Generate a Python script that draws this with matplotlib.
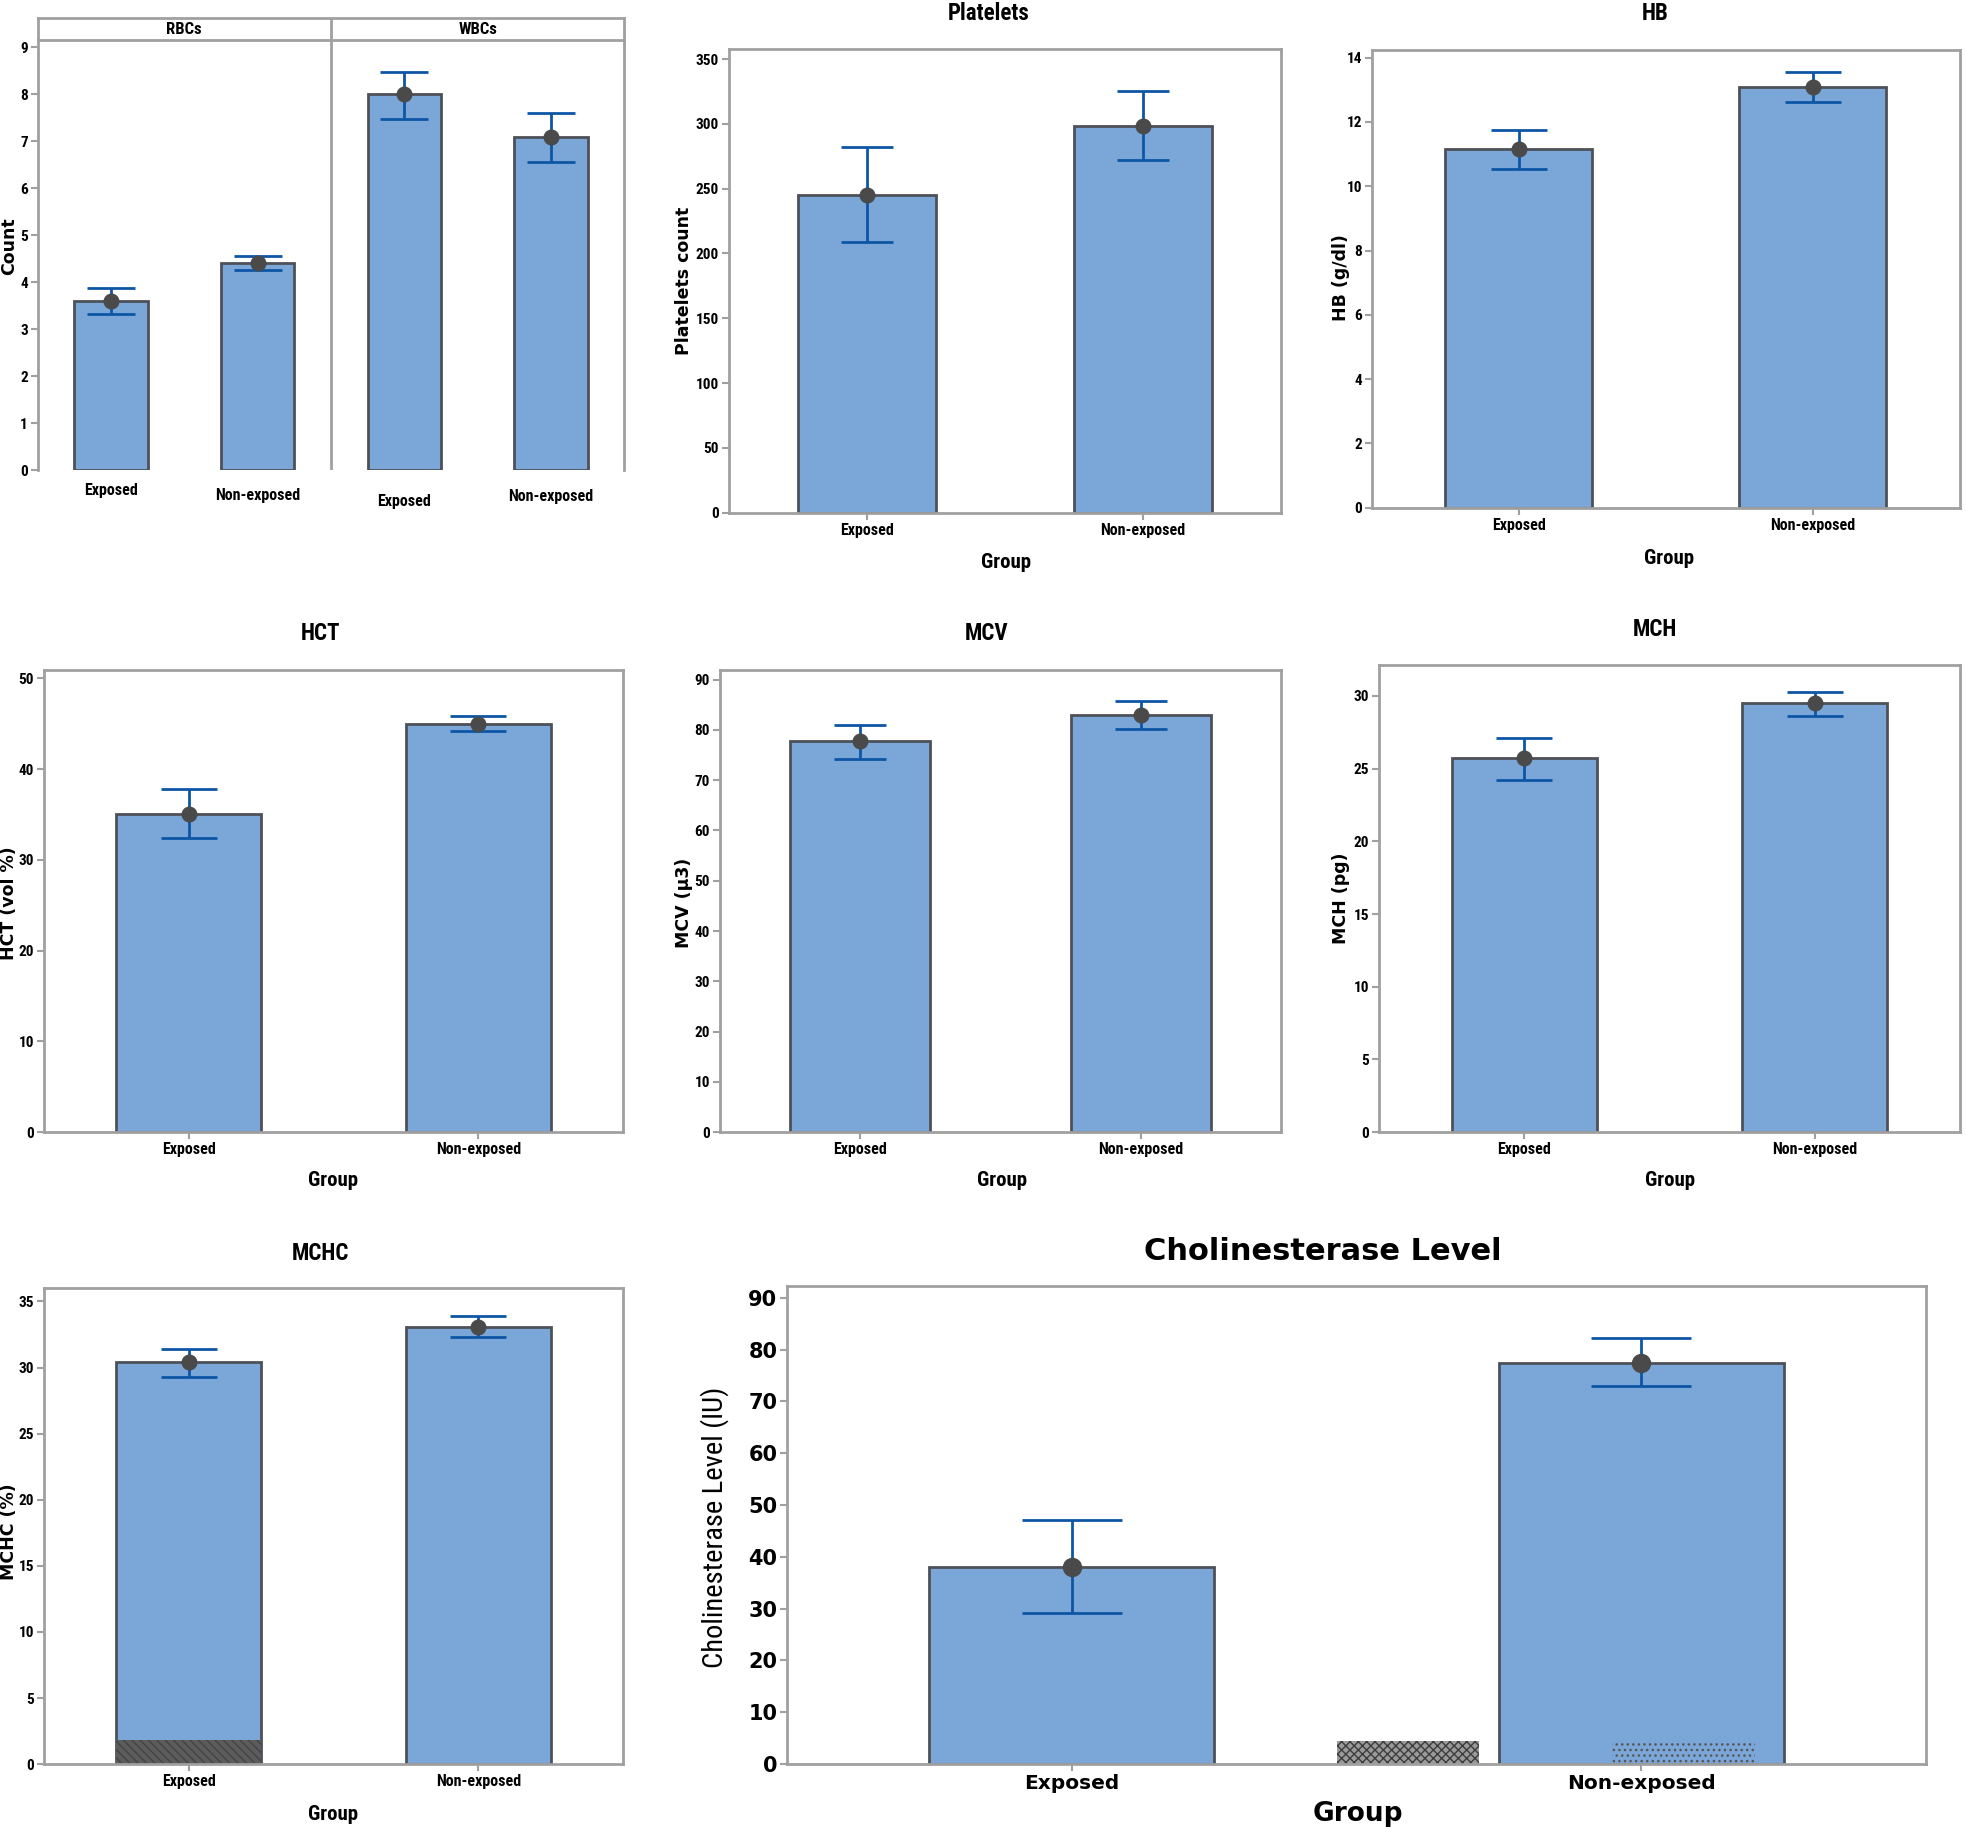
import numpy as np
import matplotlib
matplotlib.use("Agg")
import matplotlib.pyplot as plt
from matplotlib import font_manager

# look for a condensed face; fall back to plain DejaVu Sans
NARROW = "DejaVu Sans"
STRETCH = "normal"
for f in font_manager.fontManager.ttflist:
    if f.name in ("Roboto Condensed", "Liberation Sans Narrow", "Open Sans Condensed"):
        NARROW = f.name
        break
else:
    for f in font_manager.fontManager.ttflist:
        if f.name == "DejaVu Sans" and str(f.stretch) in ("condensed", "semi-condensed", "500"):
            STRETCH = "condensed"
            break
WIDE = "DejaVu Sans"
SEMI = "semibold"

groups = ["Exposed", "Non-exposed"]

# panel 1: RBCs / WBCs counts
count_cells = ["RBCs", "WBCs"]
count_mean = [3.6, 4.4, 8.0, 7.08]
count_low = [3.32, 4.25, 7.47, 6.55]
count_high = [3.87, 4.55, 8.48, 7.60]

plt_mean = [245, 298]
plt_low = [209, 272]
plt_high = [282, 325]

hb_mean = [11.15, 13.08]
hb_low = [10.55, 12.62]
hb_high = [11.75, 13.55]

hct_mean = [35.0, 45.0]
hct_low = [32.4, 44.2]
hct_high = [37.8, 45.8]

mcv_mean = [77.7, 83.0]
mcv_low = [74.2, 80.2]
mcv_high = [81.0, 85.8]

mch_mean = [25.7, 29.5]
mch_low = [24.2, 28.6]
mch_high = [27.1, 30.3]

mchc_mean = [30.4, 33.1]
mchc_low = [29.3, 32.3]
mchc_high = [31.4, 33.9]

che_mean = [38.0, 77.4]
che_low = [29.2, 72.9]
che_high = [47.2, 82.2]

BAR = "#7ba6d8"
EDGE = "#4d5157"
ERR = "#0d56a6"
DOT = "#4a4a4a"
FRAME = "#a0a0a0"

W, H = 1966, 1828
fig = plt.figure(figsize=(W / 100, H / 100), dpi=100)


def px_axes(l, t, r, b):
    return fig.add_axes([l / W, 1 - b / H, (r - l) / W, (b - t) / H])


def set_font(lab, family, size, stretch="normal", weight=SEMI):
    lab.set_color("black")
    lab.set_fontfamily(family)
    lab.set_fontsize(size)
    lab.set_fontstretch(stretch)
    lab.set_fontweight(weight)


def style(ax, ylim, yticks, ysize=11, xfont=NARROW, xsize=11.5, yfont=NARROW,
          stretch=STRETCH, weight=SEMI):
    for s in ax.spines.values():
        s.set_color(FRAME)
        s.set_linewidth(2)
    ax.set_ylim(0, ylim)
    ax.set_yticks(yticks)
    ax.tick_params(axis="both", colors=FRAME, length=5, width=1.5, pad=2)
    for lab in ax.get_yticklabels():
        set_font(lab, yfont, ysize, stretch, weight)
    for lab in ax.get_xticklabels():
        set_font(lab, xfont, xsize, stretch, weight)


def bars(ax, x, mean, low, high, cap, dot=10.5):
    mean = np.asarray(mean)
    err = [mean - np.asarray(low), np.asarray(high) - mean]
    ax.bar(x, mean, width=0.5, color=BAR, edgecolor=EDGE, linewidth=2, zorder=2)
    ax.errorbar(x, mean, yerr=err, fmt="none", ecolor=ERR, elinewidth=2,
                capsize=cap, capthick=2, zorder=3)
    ax.plot(x, mean, "o", color=DOT, markersize=dot, zorder=4)


def two_group(rect, mean, low, high, ylim, yticks, cap):
    ax = px_axes(*rect)
    x = np.arange(len(groups))
    bars(ax, x, mean, low, high, cap)
    ax.set_xlim(-0.5, 1.5)
    ax.set_xticks(x)
    ax.set_xticklabels(groups)
    style(ax, ylim, yticks)
    return ax


def ftext(x, y, s, size, family=NARROW, weight=SEMI, rot=0, stretch=STRETCH):
    fig.text(x / W, 1 - y / H, s, ha="center", va="center", fontsize=size,
             family=family, fontweight=weight, rotation=rot, fontstretch=stretch)


# ---- panel 1: RBCs / WBCs ----
ax1 = px_axes(37.6, 40.1, 624.4, 470.2)
x1 = np.arange(4)
bars(ax1, x1, count_mean, count_low, count_high, cap=17)
ax1.set_xlim(-0.5, 3.5)
ax1.set_xticks(x1)
ax1.set_xticklabels(groups * 2)
style(ax1, 9.15, range(0, 10))
ax1.spines["bottom"].set_visible(False)
ax1.spines["top"].set_visible(False)
ax1.tick_params(axis="x", length=0)
for tick, pad in zip(ax1.xaxis.get_major_ticks(), [9, 12.5, 17, 13.5]):
    tick.set_pad(pad)
ax1.axvline(1.5, color=FRAME, lw=2)
strip = px_axes(37.6, 17.6, 624.4, 40.1)
strip.set_xlim(-0.5, 3.5)
strip.set_ylim(0, 1)
strip.set_xticks([])
strip.set_yticks([])
for s in strip.spines.values():
    s.set_color(FRAME)
    s.set_linewidth(2)
strip.axvline(1.5, color=FRAME, lw=2)
for i, name in enumerate(count_cells):
    strip.text(0.5 + 2 * i, 0.45, name, ha="center", va="center", fontsize=12,
               family=NARROW, fontstretch=STRETCH, fontweight=SEMI)
ftext(9.5, 246, "Count", 12.5, WIDE, "bold", 90, "normal")

# ---- Platelets ----
two_group((728.5, 48.9, 1281.4, 512.8), plt_mean, plt_low, plt_high, 357.8, range(0, 351, 50), 19)
ftext(989, 14, "Platelets", 16.5)
ftext(1006, 562, "Group", 15)
ftext(684, 281, "Platelets count", 12.5, WIDE, "bold", 90, "normal")

# ---- HB ----
two_group((1371.7, 50.2, 1959.7, 507.8), hb_mean, hb_low, hb_high, 14.23, range(0, 15, 2), 20)
ftext(1655, 14, "HB", 16.5)
ftext(1669, 558, "Group", 15)
ftext(1341, 278, "HB (g/dl)", 12.5, WIDE, "bold", 90, "normal")

# ---- HCT ----
two_group((43.9, 669.5, 623.1, 1132.2), hct_mean, hct_low, hct_high, 50.97, range(0, 51, 10), 20)
ftext(320, 633, "HCT", 16.5)
ftext(333, 1181, "Group", 15)
ftext(9.5, 903, "HCT (vol %)", 12.5, WIDE, "bold", 90, "normal")

# ---- MCV ----
two_group((719.7, 669.5, 1281.4, 1132.2), mcv_mean, mcv_low, mcv_high, 92.0, range(0, 91, 10), 19)
ftext(987, 633, "MCV", 16.5)
ftext(1002, 1181, "Group", 15)
ftext(684, 903, "MCV (\u00b53)", 12.5, WIDE, "bold", 90, "normal")

# ---- MCH ----
two_group((1379.2, 664.5, 1959.7, 1132.2), mch_mean, mch_low, mch_high, 32.16, range(0, 31, 5), 20)
ftext(1655, 629, "MCH", 16.5)
ftext(1670, 1181, "Group", 15)
ftext(1341, 898, "MCH (pg)", 12.5, WIDE, "bold", 90, "normal")

# ---- MCHC ----
ax7 = two_group((43.9, 1287.7, 623.1, 1764.1), mchc_mean, mchc_low, mchc_high, 36.04, range(0, 36, 5), 20)
mchc_smudge = [1.8]
ax7.bar([0], mchc_smudge, width=0.5, color="#5c5c5c", edgecolor="#444444",
        hatch="\\\\\\\\", linewidth=0, zorder=2.5)
ftext(320, 1254, "MCHC", 16.5)
ftext(333, 1814, "Group", 15)
ftext(9.5, 1532, "MCHC (%)", 12.5, WIDE, "bold", 90, "normal")

# ---- Cholinesterase ----
ax8 = px_axes(787, 1286.4, 1926, 1764.1)
x8 = np.arange(len(groups))
bars(ax8, x8, che_mean, che_low, che_high, cap=36, dot=13)
ax8.set_xlim(-0.5, 1.5)
ax8.set_xticks(x8)
ax8.set_xticklabels(groups)
style(ax8, 92.2, range(0, 91, 10), ysize=15, xfont=WIDE, xsize=14.5, yfont=WIDE,
      stretch="normal", weight="bold")
# scan artefacts at the bottom of the chart
che_patch_x = [0.59, 1.074]
che_patch_h = [4.5, 4.5]
ax8.bar(che_patch_x[0], che_patch_h[0], width=0.25, color="#9a9a9a", edgecolor="#3d3d3d",
        hatch="xxxx", linewidth=0, zorder=2.5)
ax8.bar(che_patch_x[1], che_patch_h[1], width=0.25, color="none", edgecolor="#555555",
        hatch="...", linewidth=0, zorder=2.5)
ftext(1323, 1251, "Cholinesterase Level", 22, WIDE, "bold", 0, "normal")
ftext(1358, 1814, "Group", 19, WIDE, "bold", 0, "normal")
ftext(715, 1527, "Cholinesterase Level (IU)", 20.5, NARROW, "normal", 90)

fig.savefig("out.png", dpi=100, facecolor="white")
